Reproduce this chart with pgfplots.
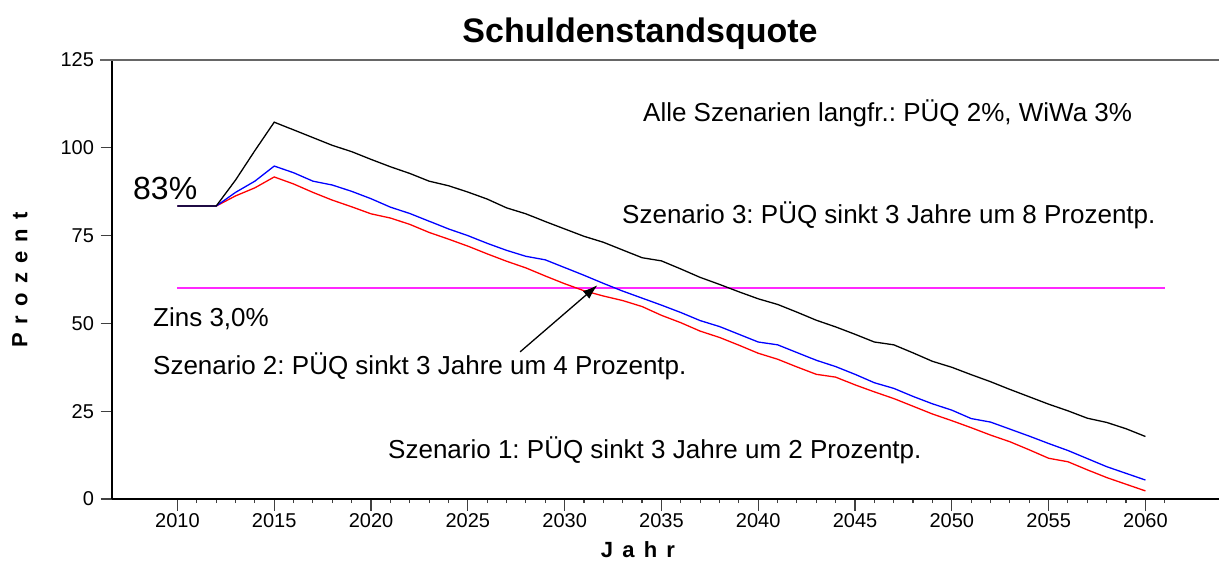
\documentclass[border=0pt]{standalone}
\usepackage{fontspec}
\setmainfont{Liberation Sans}
\newfontfamily\lsfont[LetterSpace=14]{Liberation Sans}
\usepackage{pgfplots}
\pgfplotsset{compat=1.18}
\usetikzlibrary{arrows.meta}
\definecolor{mag}{RGB}{255,40,255}
\frenchspacing

\pgfplotstableread{
year black blue red
2010 83.4 83.4 83.4
2011 83.4 83.4 83.4
2012 83.4 83.4 83.4
2013 90.8 87.3 86.3
2014 99.2 90.5 88.6
2015 107.3 94.8 91.7
2016 105.1 92.9 89.7
2017 102.9 90.5 87.3
2018 100.7 89.4 85.1
2019 98.9 87.6 83.2
2020 96.7 85.5 81.2
2021 94.6 83.1 80.0
2022 92.7 81.3 78.2
2023 90.5 79.1 75.9
2024 89.2 76.9 74.0
2025 87.4 75.0 72.0
2026 85.4 72.8 69.8
2027 82.9 70.8 67.7
2028 81.2 69.1 65.8
2029 79.0 68.1 63.5
2030 76.9 65.9 61.3
2031 74.8 63.7 59.3
2032 73.1 61.4 57.8
2033 70.9 59.2 56.5
2034 68.7 57.2 54.8
2035 67.8 55.2 52.3
2036 65.5 53.1 50.2
2037 63.1 50.8 47.8
2038 61.1 49.1 46.0
2039 59.0 46.9 43.8
2040 57.0 44.7 41.5
2041 55.4 43.9 39.8
2042 53.2 41.7 37.6
2043 50.9 39.5 35.5
2044 49.0 37.7 34.7
2045 46.9 35.5 32.5
2046 44.7 33.1 30.5
2047 43.9 31.5 28.6
2048 41.6 29.2 26.4
2049 39.2 27.1 24.2
2050 37.5 25.3 22.3
2051 35.4 22.9 20.3
2052 33.4 21.9 18.2
2053 31.2 19.9 16.3
2054 29.1 17.9 14.0
2055 27.0 15.8 11.6
2056 25.1 13.8 10.6
2057 23.0 11.5 8.3
2058 21.8 9.2 6.1
2059 20.0 7.3 4.2
2060 17.8 5.4 2.3
}\datatable

\begin{document}
\begin{tikzpicture}[x=1pt,y=1pt]
\useasboundingbox (0pt,0pt) rectangle (1219pt,563pt);
\begin{axis}[
  at={(112pt,64pt)}, anchor=south west,
  scale only axis, width=1107pt, height=439pt,
  xmin=2006.62, xmax=2063.8, ymin=0, ymax=125,
  axis x line*=bottom, axis y line*=left,
  xtick={2010,2015,...,2060},
  minor xtick={2010,...,2061},
  ytick={0,25,...,125},
  tick align=outside,
  major tick length=11.5pt, minor tick length=4pt,
  tick style={line width=1.1pt, color=black!75},
  axis line style={line width=1.2pt, black},
  tick label style={font=\fontsize{20}{23}\selectfont},
  y tick label style={xshift=-3pt},
  /pgf/number format/assume math mode=true,
  /pgf/number format/1000 sep={},
  clip=false,
]
\addplot[mag, line width=2.2pt] coordinates {(2010,60) (2061,60)};
\addplot[red, line width=1.3pt] table[x=year, y=red] {\datatable};
\addplot[blue, line width=1.3pt] table[x=year, y=blue] {\datatable};
\addplot[black, line width=1.3pt] table[x=year, y=black] {\datatable};
\draw[-{Latex[length=15pt,width=10pt]}, line width=1.3pt] (axis cs:2027.7,41.9) -- (axis cs:2031.7,60.9);
\end{axis}
\draw[black!60, line width=1.5pt] (100pt,503pt) -- (1219pt,503pt);
\node[inner sep=0, anchor=base] at (640pt,520pt) {\fontsize{34}{38}\selectfont\bfseries Schuldenstandsquote};
\node[inner sep=0, anchor=base west] at (643pt,441pt) {\fontsize{26}{30}\selectfont Alle Szenarien langfr.: PÜQ 2\%, WiWa 3\%};
\node[inner sep=0, anchor=base west] at (133pt,363.5pt) {\fontsize{32}{36}\selectfont 83\%};
\node[inner sep=0, anchor=base west] at (622pt,339pt) {\fontsize{26}{30}\selectfont Szenario 3: PÜQ sinkt 3 Jahre um 8 Prozentp.};
\node[inner sep=0, anchor=base west] at (153pt,236pt) {\fontsize{26}{30}\selectfont Zins 3,0\%};
\node[inner sep=0, anchor=base west] at (153pt,188pt) {\fontsize{26}{30}\selectfont Szenario 2: PÜQ sinkt 3 Jahre um 4 Prozentp.};
\node[inner sep=0, anchor=base west] at (388pt,105pt) {\fontsize{26}{30}\selectfont Szenario 1: PÜQ sinkt 3 Jahre um 2 Prozentp.};
\node[inner sep=0] at (638pt,13pt) {\fontsize{22}{25}\selectfont\lsfont\bfseries J a h r};
\node[inner sep=0, rotate=90] at (20pt,283pt) {\fontsize{22}{25}\selectfont\lsfont\bfseries P r o z e n t};
\end{tikzpicture}
\end{document}
